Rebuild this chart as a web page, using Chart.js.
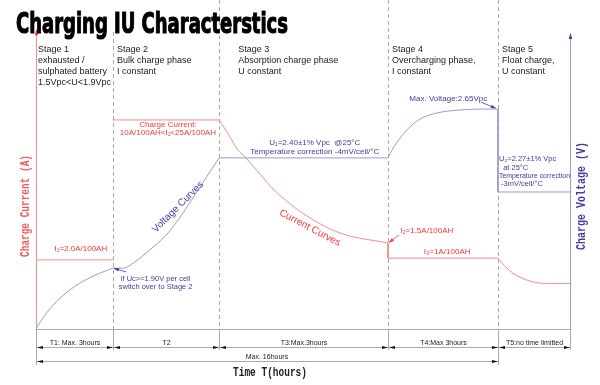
<!DOCTYPE html>
<html>
<head>
<meta charset="utf-8">
<script src="https://cdn.jsdelivr.net/npm/chart.js@4.4.1/dist/chart.umd.min.js"></script>
<style>
  html, body { margin: 0; padding: 0; background: #fff; }
  #wrap { width: 600px; height: 385px; }
</style>
</head>
<body>
<div id="wrap"><canvas id="chart" width="600" height="385"></canvas></div>
<script>
'use strict';

// x: position along the time axis (0..100), y: level (0..100)
const stageEdges = [0, 14.4, 34.3, 65.9, 86.5, 100];
const timeLabels = ['T1: Max. 3hours', 'T2', 'T3:Max.3hours', 'T4:Max 3hours', 'T5:no time limitted'];
const stageNotes = [
  ['Stage 1', 'exhausted /', 'sulphated battery', '1.5Vpc<U<1.9Vpc'],
  ['Stage 2', 'Bulk charge phase', 'I constant'],
  ['Stage 3', 'Absorption charge phase', 'U constant'],
  ['Stage 4', 'Overcharging phase,', 'I constant'],
  ['Stage 5', 'Float charge,', 'U constant'],
];

// current curve (red)
const currentStage1 = [[0, 23.5], [14.4, 23.5]];
const currentStage2 = [[14.4, 71.1], [34.3, 71.1]];
const currentStage3 = [[34.3, 71.1], [36.0, 66.3], [37.8, 60.9], [39.3, 58.2], [41.6, 53.4], [44.2, 48.0],
  [47.6, 42.5], [51.3, 37.8], [55.1, 34.0], [58.8, 31.6], [62.5, 30.3], [65.9, 29.3]];
const currentStage4 = [[65.9, 29.3], [65.9, 24.1], [86.5, 24.1]];
const currentStage5 = [[86.5, 24.1], [87.8, 21.4], [89.3, 19.0], [91.0, 17.3], [92.5, 16.3], [94.4, 15.6],
  [96.3, 15.5], [100, 15.5]];

// voltage curve (blue)
const voltageStage1 = [[0, 0], [1.7, 4.8], [4.5, 10.5], [8.2, 15.6], [12.0, 19.0], [14.4, 20.7]];
const voltageStage2 = [[14.4, 20.7], [16.3, 20.7], [18.5, 22.8], [21.3, 26.9], [24.2, 31.6], [27.0, 38.1],
  [30.7, 48.3], [34.3, 58.2]];
const voltageStage3 = [[34.3, 58.2], [65.9, 58.2]];
const voltageStage4 = [[65.9, 58.2], [66.9, 61.6], [68.2, 65.0], [70.0, 68.7], [71.9, 71.4], [74.3, 73.1],
  [77.0, 74.1], [80.3, 74.6], [83.1, 74.8], [86.5, 74.8]];
const voltageStage5 = [[86.5, 74.8], [86.5, 46.6], [100, 46.6]];

const RED = '#f29090';
const RED_TXT = '#f03a3a';
const BLUE = '#9a9ad0';
const BLUE_TXT = '#40409e';
const GRID = '#a9a9a9';

const series = [
  { data: currentStage1, color: RED, smooth: false },
  { data: currentStage2, color: RED, smooth: false },
  { data: currentStage3, color: RED, smooth: true },
  { data: currentStage4, color: RED, smooth: false },
  { data: currentStage5, color: RED, smooth: true },
  { data: voltageStage1, color: BLUE, smooth: true },
  { data: voltageStage2, color: BLUE, smooth: true },
  { data: voltageStage3, color: BLUE, smooth: false },
  { data: voltageStage4, color: BLUE, smooth: true },
  { data: voltageStage5, color: BLUE, smooth: false },
];

function text(ctx, str, x, y, font, color, align, maxW) {
  ctx.save();
  ctx.font = font;
  ctx.fillStyle = color;
  ctx.textAlign = align || 'center';
  ctx.textBaseline = 'middle';
  if (maxW) ctx.fillText(str, x, y, maxW);
  else ctx.fillText(str, x, y);
  ctx.restore();
}

function head(ctx, x, y, ang, len, half, color) {
  ctx.save();
  ctx.translate(x, y);
  ctx.rotate(ang);
  ctx.fillStyle = color;
  ctx.beginPath();
  ctx.moveTo(0, 0);
  ctx.lineTo(-len, -half);
  ctx.lineTo(-len, half);
  ctx.closePath();
  ctx.fill();
  ctx.restore();
}

function pointer(ctx, x1, y1, x2, y2, color) {
  ctx.save();
  ctx.strokeStyle = color;
  ctx.lineWidth = 0.8;
  ctx.beginPath();
  ctx.moveTo(x1, y1);
  ctx.lineTo(x2, y2);
  ctx.stroke();
  ctx.restore();
  head(ctx, x2, y2, Math.atan2(y2 - y1, x2 - x1), 5, 1.8, color);
}

function line(ctx, x1, y1, x2, y2, color, dash) {
  ctx.save();
  ctx.strokeStyle = color;
  ctx.lineWidth = 1;
  if (dash) ctx.setLineDash(dash);
  ctx.beginPath();
  ctx.moveTo(x1, y1);
  ctx.lineTo(x2, y2);
  ctx.stroke();
  ctx.restore();
}

const diagram = {
  id: 'diagram',
  beforeDatasetsDraw(chart) {
    const { ctx, chartArea: a, scales: { x } } = chart;
    // stage separators
    stageEdges.slice(1, -1).forEach((e, i) => {
      const X = Math.round(x.getPixelForValue(e)) + 0.5;
      line(ctx, X, i === 0 ? 32 : 0, X, a.bottom, GRID, [4, 3]);
    });
    line(ctx, a.left, a.bottom + 0.5, a.right, a.bottom + 0.5, GRID);
    line(ctx, a.left + 0.5, 30, a.left + 0.5, a.bottom, RED);
    head(ctx, a.left + 0.5, 29, -Math.PI / 2, 6, 1.8, RED_TXT);
    line(ctx, a.right + 0.5, 34, a.right + 0.5, a.bottom, BLUE);
    head(ctx, a.right + 0.5, 33, -Math.PI / 2, 6, 1.8, BLUE_TXT);
  },
  afterDatasetsDraw(chart) {
    const { ctx, chartArea: a, scales: { x, y } } = chart;
    const X = (v) => x.getPixelForValue(v);
    const Y = (v) => y.getPixelForValue(v);
    const f8 = '8px "Liberation Sans", Arial, sans-serif';

    // title
    ctx.save();
    ctx.font = 'bold 28px "Liberation Sans Narrow", "DejaVu Sans Condensed", "DejaVu Sans", sans-serif';
    ctx.fillStyle = '#000';
    ctx.strokeStyle = '#000';
    ctx.lineWidth = 1.1;
    ctx.lineJoin = 'round';
    ctx.textBaseline = 'alphabetic';
    ctx.strokeText('Charging IU Characterstics', 16, 33, 272);
    ctx.fillText('Charging IU Characterstics', 16, 33, 272);
    ctx.restore();

    // stage notes
    const offs = [2, 4, 19, 4, 4];
    stageNotes.forEach((lines, i) => {
      lines.forEach((s, j) => {
        text(ctx, s, X(stageEdges[i]) + offs[i], 50 + j * 11, '9px "Liberation Sans", Arial, sans-serif', '#1a1a1a', 'left');
      });
    });

    // current annotations
    text(ctx, 'I\u2081=2.0A/100AH', X(8.4), Y(27.2), f8, RED_TXT);
    text(ctx, 'Charge Current:', X(24.7), Y(69.4), f8, RED_TXT);
    text(ctx, '10A/100AH<I\u2081<25A/100AH', X(24.7), Y(66.6), f8, RED_TXT);
    text(ctx, 'I\u2082=1.5A/100AH', X(68.2), Y(33.3), f8, RED_TXT, 'left');
    pointer(ctx, X(68.0), Y(32.0), X(66.1), Y(29.4), RED_TXT);
    text(ctx, 'I\u2083=1A/100AH', X(77.0), Y(26.2), f8, RED_TXT);

    // voltage annotations
    text(ctx, 'U\u2081=2.40\u00b11% Vpc  @25\u00b0C', X(52.2), Y(63.3), f8, BLUE_TXT);
    text(ctx, 'Temperature correction -4mV/cell/\u00b0C', X(52.2), Y(60.2), f8, BLUE_TXT);
    text(ctx, 'Max. Voltage:2.65Vpc', X(77.2), Y(78.2), f8, BLUE_TXT);
    pointer(ctx, X(83.3), Y(77.2), X(86.1), Y(75.1), BLUE_TXT);
    ['U\u2082=2.27\u00b11% Vpc', '  at 25\u00b0C', 'Temperature correction', ' -3mV/cell/\u00b0C'].forEach((s, j) => {
      text(ctx, s, X(86.7), Y(57.8) + j * 8.4, '7.5px "Liberation Sans", Arial, sans-serif', BLUE_TXT, 'left', 71);
    });
    text(ctx, 'if Uc>=1.90V per cell', X(22.4), Y(17.0), '7.5px "Liberation Sans", Arial, sans-serif', BLUE_TXT);
    text(ctx, 'switch over to Stage 2', X(22.4), Y(14.2), '7.5px "Liberation Sans", Arial, sans-serif', BLUE_TXT);
    pointer(ctx, X(16.9), Y(19.4), X(14.6), Y(20.6), BLUE_TXT);

    // curve names
    ctx.save();
    ctx.translate(X(26.6), Y(41.5));
    ctx.rotate(-Math.PI / 4);
    text(ctx, 'Voltage Curves', 0, 0, '10px "Liberation Sans", Arial, sans-serif', BLUE_TXT);
    ctx.restore();
    ctx.save();
    ctx.translate(X(51.3), Y(34.4));
    ctx.rotate(28 * Math.PI / 180);
    text(ctx, 'Current Curves', 0, 0, '10px "Liberation Sans", Arial, sans-serif', RED_TXT);
    ctx.restore();

    // axis titles
    const mono = 'bold 12px "Liberation Mono", "Courier New", monospace';
    ctx.save();
    ctx.translate(26, 206);
    ctx.rotate(-Math.PI / 2);
    text(ctx, 'Charge Current (A)', 0, 0, mono, '#f05a5a', 'center', 102);
    ctx.restore();
    ctx.save();
    ctx.translate(582, 196);
    ctx.rotate(-Math.PI / 2);
    text(ctx, 'Charge Voltage (V)', 0, 0, mono, BLUE_TXT, 'center', 108);
    ctx.restore();
    text(ctx, 'Time T(hours)', 270, 373, mono, '#222', 'center', 74);

    // time dimension lines
    const r1 = 347.5, r2 = 361.5;
    stageEdges.forEach((e, i) => {
      const px = Math.round(X(e)) + 0.5;
      const deep = i === 0 || i === 4;
      line(ctx, px, a.bottom, px, deep ? 365 : 350, GRID);
    });
    line(ctx, X(0), r1, X(100), r1, GRID);
    line(ctx, X(0), r2, X(stageEdges[4]), r2, GRID);
    for (let i = 0; i < 5; i++) {
      const L = Math.round(X(stageEdges[i])) + 1;
      const R = Math.round(X(stageEdges[i + 1]));
      head(ctx, L, r1, Math.PI, 6, 1.6, '#111');
      head(ctx, R, r1, 0, 6, 1.6, '#111');
      text(ctx, timeLabels[i], (L + R) / 2, 343, '7px "Liberation Sans", Arial, sans-serif', '#222');
    }
    head(ctx, Math.round(X(0)) + 1, r2, Math.PI, 6, 1.6, '#111');
    head(ctx, Math.round(X(stageEdges[4])), r2, 0, 6, 1.6, '#111');
    text(ctx, 'Max. 16hours', (X(0) + X(stageEdges[4])) / 2, 357, '7px "Liberation Sans", Arial, sans-serif', '#222');
  },
};

new Chart(document.getElementById('chart'), {
  type: 'scatter',
  data: {
    datasets: series.map((s) => ({
      data: s.data.map(([px, py]) => ({ x: px, y: py })),
      showLine: true,
      borderColor: s.color,
      borderWidth: 1,
      pointRadius: 0,
      fill: false,
      cubicInterpolationMode: s.smooth ? 'monotone' : 'default',
      tension: 0,
    })),
  },
  options: {
    responsive: false,
    animation: false,
    layout: { padding: { left: 36, right: 30, top: 35, bottom: 56 } },
    scales: {
      x: { type: 'linear', min: 0, max: 100, display: false },
      y: { type: 'linear', min: 0, max: 100, display: false },
    },
    plugins: { legend: { display: false }, tooltip: { enabled: false } },
  },
  plugins: [diagram],
});
</script>
</body>
</html>
